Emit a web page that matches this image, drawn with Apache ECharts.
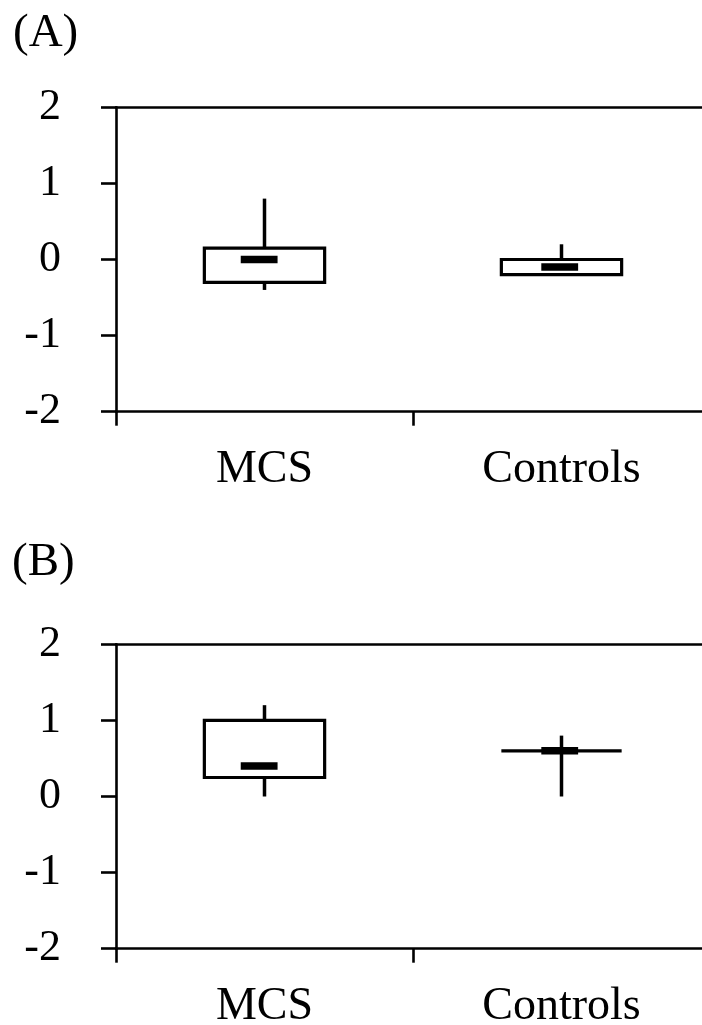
<!DOCTYPE html>
<html>
<head>
<meta charset="utf-8">
<script src="https://cdn.jsdelivr.net/npm/echarts@6/dist/echarts.min.js"></script>
<style>
html,body{margin:0;padding:0;background:#fff;}
#chart{width:702px;height:1025px;}
</style>
</head>
<body>
<div id="chart"></div>
<script>
// ---- data ----
const categories = ['MCS', 'Controls'];
const panelLabels = ['(A)', '(B)'];
const yMin = -2, yMax = 2, yStep = 1;

// Panel A: min, q1, median, q3, max per category
const aMin    = [-0.4, -0.2];
const aQ1     = [-0.3, -0.2];
const aMedian = [0.0, -0.1];
const aQ3     = [0.15, 0.0];
const aMax    = [0.8, 0.2];

// Panel B
const bMin    = [0.0, 0.0];
const bQ1     = [0.25, 0.6];
const bMedian = [0.4, 0.6];
const bQ3     = [1.0, 0.6];
const bMax    = [1.2, 0.8];

function rows(mn, q1, md, q3, mx) {
  return categories.map((c, i) => [i, mn[i], q1[i], md[i], q3[i], mx[i]]);
}

const FONT = "'Liberation Serif','Times New Roman',serif";
const chart = echarts.init(document.getElementById('chart'), null, {renderer: 'canvas'});

function renderBox(params, api) {
  const x = api.value(0);
  const band = api.size([1, 0])[0];
  const pMin = api.coord([x, api.value(1)]);
  const pQ1 = api.coord([x, api.value(2)]);
  const pMd = api.coord([x, api.value(3)]);
  const pQ3 = api.coord([x, api.value(4)]);
  const pMax = api.coord([x, api.value(5)]);
  const cx = pMd[0];
  const boxW = band * 0.405;
  const medW = band * 0.124;
  const medH = 7.5;
  const children = [];
  if (pMax[1] < pQ3[1]) children.push({type: 'line', shape: {x1: cx, y1: pQ3[1], x2: cx, y2: pMax[1]}, style: {stroke: '#000', lineWidth: 3.5}});
  if (pMin[1] > pQ1[1]) children.push({type: 'line', shape: {x1: cx, y1: pQ1[1], x2: cx, y2: pMin[1]}, style: {stroke: '#000', lineWidth: 3.5}});
  children.push({type: 'rect', shape: {x: cx - boxW / 2, y: pQ3[1], width: boxW, height: pQ1[1] - pQ3[1]}, style: {fill: 'none', stroke: '#000', lineWidth: 3.2}});
  const medOffset = params.dataIndex === 0 ? -band * 0.018 : -band * 0.006;
  children.push({type: 'rect', shape: {x: cx + medOffset - medW / 2, y: pMd[1] - medH / 2, width: medW, height: medH}, style: {fill: '#000', stroke: null}});
  return {type: 'group', children};
}

const grids = [
  {left: 116, width: 594, top: 107.3, height: 304.4, outerBoundsMode: 'none', containLabel: false},
  {left: 116, width: 594, top: 644.3, height: 304.4, outerBoundsMode: 'none', containLabel: false}
];

const xAxes = [], yAxes = [], series = [];
[rows(aMin, aQ1, aMedian, aQ3, aMax), rows(bMin, bQ1, bMedian, bQ3, bMax)].forEach((data, g) => {
  xAxes.push({
    type: 'category', gridIndex: g, data: categories, position: 'bottom',
    axisLine: {show: true, onZero: false, lineStyle: {color: '#000', width: 2.6}},
    axisTick: {show: true, length: 14, inside: false, lineStyle: {color: '#000', width: 2.6}},
    axisLabel: {color: '#000', fontFamily: FONT, fontSize: 46, margin: 35, lineHeight: 46},
    splitLine: {show: false}
  });
  xAxes.push({
    type: 'category', gridIndex: g, data: categories, position: 'top',
    axisLine: {show: true, onZero: false, lineStyle: {color: '#000', width: 2.6}},
    axisTick: {show: false}, axisLabel: {show: false}, splitLine: {show: false}
  });
  yAxes.push({
    type: 'value', gridIndex: g, min: yMin, max: yMax, interval: yStep,
    axisLine: {show: true, onZero: false, lineStyle: {color: '#000', width: 2.6}},
    axisTick: {show: true, length: 15, inside: false, lineStyle: {color: '#000', width: 2.6}},
    axisLabel: {color: '#000', fontFamily: FONT, fontSize: 44, margin: 55},
    splitLine: {show: false}
  });
  series.push({
    type: 'custom', xAxisIndex: g * 2, yAxisIndex: g,
    renderItem: renderBox, data: data, clip: false, silent: true
  });
});

chart.setOption({
  animation: false,
  backgroundColor: '#fff',
  grid: grids,
  xAxis: xAxes,
  yAxis: yAxes,
  series: series,
  graphic: [
    {type: 'text', left: 13, top: 10, style: {text: panelLabels[0], fill: '#000', font: '47px ' + FONT}},
    {type: 'text', left: 12, top: 539, style: {text: panelLabels[1], fill: '#000', font: '47px ' + FONT}}
  ]
});
</script>
</body>
</html>
